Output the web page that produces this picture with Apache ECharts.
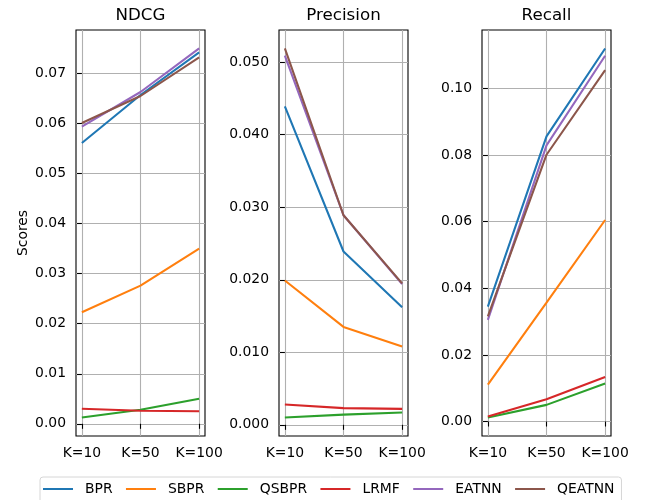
<!DOCTYPE html>
<html>
<head>
<meta charset="utf-8">
<script src="https://cdn.jsdelivr.net/npm/echarts@6/dist/echarts.min.js"></script>
<style>
  html, body { margin: 0; padding: 0; background: #fff; }
  #chart { width: 646px; height: 500px; }
</style>
</head>
<body>
<div id="chart"></div>
<script>
const categories = ['K=10', 'K=50', 'K=100']
const seriesNames = ['BPR', 'SBPR', 'QSBPR', 'LRMF', 'EATNN', 'QEATNN']
const colors = ['#1f77b4', '#ff7f0e', '#2ca02c', '#d62728', '#9467bd', '#8c564b']

// NDCG
const ndcgBPR = [0.0561, 0.0657, 0.0742]
const ndcgSBPR = [0.0223, 0.0276, 0.0350]
const ndcgQSBPR = [0.00125, 0.0028, 0.0050]
const ndcgLRMF = [0.0030, 0.0026, 0.0025]
const ndcgEATNN = [0.0594, 0.0663, 0.0750]
const ndcgQEATNN = [0.0601, 0.0655, 0.0732]

// Precision
const precBPR = [0.0439, 0.0239, 0.0162]
const precSBPR = [0.0199, 0.0135, 0.0108]
const precQSBPR = [0.0010, 0.0014, 0.0017]
const precLRMF = [0.0028, 0.0023, 0.0022]
const precEATNN = [0.0509, 0.0289, 0.0194]
const precQEATNN = [0.0519, 0.0289, 0.0195]

// Recall
const recBPR = [0.0345, 0.0856, 0.1120]
const recSBPR = [0.0111, 0.0357, 0.0605]
const recQSBPR = [0.0012, 0.0050, 0.0114]
const recLRMF = [0.0015, 0.0067, 0.0134]
const recEATNN = [0.0305, 0.0829, 0.1098]
const recQEATNN = [0.0316, 0.0801, 0.1055]

// tick labels
const ndcgTicks = [0, 0.01, 0.02, 0.03, 0.04, 0.05, 0.06, 0.07]
const precTicks = [0, 0.01, 0.02, 0.03, 0.04, 0.05]
const recTicks = [0, 0.02, 0.04, 0.06, 0.08, 0.10]

const panels = [
  { title: 'NDCG', left: 76, ticks: ndcgTicks, digits: 2,
    data: [ndcgBPR, ndcgSBPR, ndcgQSBPR, ndcgLRMF, ndcgEATNN, ndcgQEATNN] },
  { title: 'Precision', left: 279, ticks: precTicks, digits: 3,
    data: [precBPR, precSBPR, precQSBPR, precLRMF, precEATNN, precQEATNN] },
  { title: 'Recall', left: 482, ticks: recTicks, digits: 2,
    data: [recBPR, recSBPR, recQSBPR, recLRMF, recEATNN, recQEATNN] },
]

const W = 129
const TOP = 30
const H = 406
const FONT = 'DejaVu Sans'
const xIdx = categories.map((_, i) => i)

const grid = [], xAxis = [], yAxis = [], title = [], series = []

panels.forEach((p, k) => {
  // matplotlib-like 5% margins
  const all = p.data.flat()
  const lo = Math.min(...all), hi = Math.max(...all)
  const pad = (hi - lo) * 0.05

  grid.push({
    left: p.left, top: TOP, width: W, height: H,
    show: true, borderColor: '#000', borderWidth: 1.1,
  })
  title.push({
    text: p.title,
    left: p.left + W / 2, top: 7, textAlign: 'center', padding: 0,
    textStyle: { fontFamily: FONT, fontSize: 16.7, fontWeight: 'normal', color: '#000' },
  })
  xAxis.push({
    type: 'value', gridIndex: k, min: -0.1, max: 2.1,
    axisLine: { show: false },
    axisTick: { show: true, length: 5, customValues: xIdx, lineStyle: { color: '#000', width: 1.1 } },
    axisLabel: {
      customValues: xIdx, margin: 10, color: '#000',
      fontFamily: FONT, fontSize: 13.9,
      formatter: v => categories[Math.round(v)],
    },
    splitLine: { show: true, lineStyle: { color: '#b0b0b0', width: 1.1 } },
  })
  yAxis.push({
    type: 'value', gridIndex: k, min: lo - pad, max: hi + pad,
    name: k === 0 ? 'Scores' : '',
    nameLocation: 'middle', nameGap: 46,
    nameTextStyle: { fontFamily: FONT, fontSize: 13.9, color: '#000' },
    axisLine: { show: false },
    axisTick: { show: true, length: 5, customValues: p.ticks, lineStyle: { color: '#000', width: 1.1 } },
    axisLabel: {
      customValues: p.ticks, margin: 10, color: '#000',
      fontFamily: FONT, fontSize: 13.9,
      formatter: v => v.toFixed(p.digits),
    },
    splitLine: { show: true, lineStyle: { color: '#b0b0b0', width: 1.1 } },
  })
  p.data.forEach((vals, s) => {
    series.push({
      name: seriesNames[s],
      type: 'line',
      xAxisIndex: k, yAxisIndex: k,
      data: vals.map((v, i) => [xIdx[i], v]),
      symbol: 'none',
      color: colors[s],
      lineStyle: { width: 2.08 },
      emphasis: { disabled: true },
      animation: false,
    })
  })
})

const chart = echarts.init(document.getElementById('chart'))
chart.setOption({
  animation: false,
  title,
  grid,
  xAxis,
  yAxis,
  legend: {
    data: seriesNames,
    left: 40, top: 477,
    padding: [5, 7, 20, 3],
    icon: 'rect',
    itemWidth: 30, itemHeight: 2, itemGap: 13.4,
    borderColor: '#d6d6d6', borderWidth: 1, borderRadius: 3,
    textStyle: { fontFamily: FONT, fontSize: 13.9, color: '#000', padding: [0, 0, 0, 7], lineHeight: 14 },
  },
  series,
})
</script>
</body>
</html>
